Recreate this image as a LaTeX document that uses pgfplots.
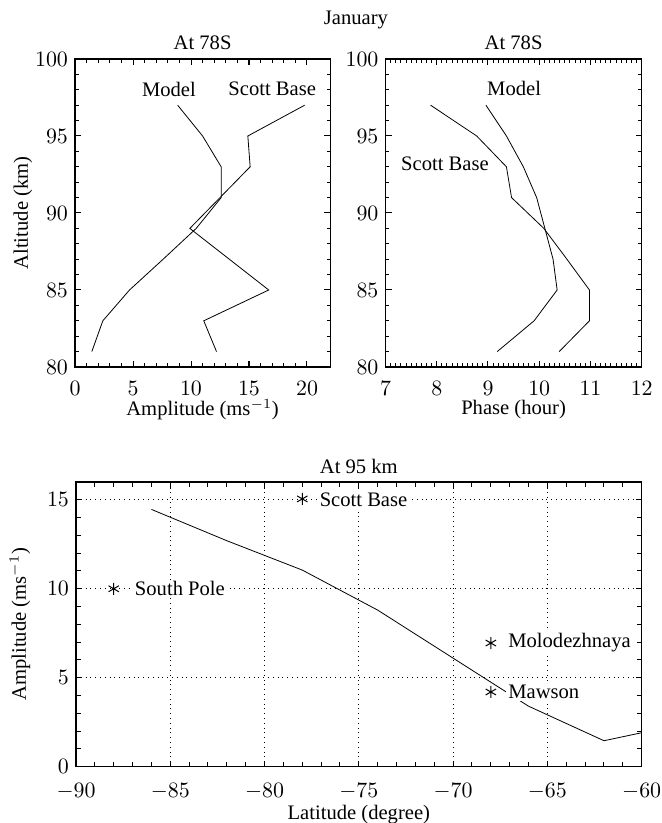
\documentclass[border=0pt]{standalone}
\usepackage{fontspec}
\setmainfont{Liberation Serif}
\usepackage{pgfplots}
\pgfplotsset{compat=1.18}
\pgfplotsset{
  panel/.style={
    scale only axis, anchor=north west,
    axis line style={line width=0.6pt},
    cycle list={{black, mark=none, line width=0.5pt}},
    ticklabel style={font=\fontsize{10.5}{12}\selectfont},
    xticklabel style={yshift=-3.5pt},
    tick style={black, line width=0.5pt},
    major tick length=3pt, minor tick length=1.8pt,
    title style={at={(0.5,1)}, anchor=center, yshift=2pt},
    xlabel style={at={(0.5,0)}, anchor=center, yshift=-21.5pt},
  }
}
\begin{document}
\begin{tikzpicture}[font=\fontsize{10.3}{12}\selectfont]
\path[use as bounding box] (0,0) rectangle (330.5pt,-411.5pt);
\node at (178pt,-10pt) {January};

% amplitude profile at 78S
\begin{axis}[panel, at={(37.5pt,-29.5pt)}, width=127.6pt, height=154pt,
  xmin=0, xmax=22, ymin=80, ymax=100,
  xtick={0,5,...,20}, ytick={80,85,...,100},
  minor x tick num=4, minor y tick num=4,
  title={At 78S}, xlabel={Amplitude (ms$^{-1}$)}, ylabel={Altitude (km)},
  ylabel style={at={(axis description cs:-0.204,0.5)}, anchor=center}]
\addplot coordinates {(8.85,97) (11.0,95) (12.6,93) (12.6,91) (10.45,89) (7.6,87) (4.7,85) (2.4,83) (1.45,81)};
\addplot coordinates {(19.8,97) (14.9,95) (15.1,93) (9.9,89) (16.7,85) (11.1,83) (12.2,81)};
\node at (axis cs:8.1,98.05) {Model};
\node at (axis cs:17.0,98.05) {Scott Base};
\end{axis}

% phase profile at 78S
\begin{axis}[panel, at={(192.75pt,-29.5pt)}, width=128.1pt, height=154pt,
  xmin=7, xmax=12, ymin=80, ymax=100,
  xtick={7,...,12}, ytick={80,85,...,100},
  minor x tick num=9, minor y tick num=4,
  title={At 78S}, xlabel={Phase (hour)}]
\addplot coordinates {(8.96,97) (9.36,95) (9.69,93) (9.95,91) (10.11,89) (10.27,87) (10.35,85) (9.90,83) (9.18,81)};
\addplot coordinates {(7.88,97) (8.78,95) (9.36,93) (9.46,91) (10.09,89) (10.54,87) (10.98,85) (10.98,83) (10.39,81)};
\node at (axis cs:9.51,98.1) {Model};
\node at (axis cs:8.16,93.18) {Scott Base};
\end{axis}

% amplitude vs latitude at 95 km
\begin{axis}[panel, at={(38pt,-241pt)}, width=282.85pt, height=142.35pt,
  xmin=-90, xmax=-60, ymin=0, ymax=16,
  xtick={-90,-85,...,-60}, ytick={0,5,10,15},
  minor x tick num=4, minor y tick num=4, minor tick length=2.6pt,
  xticklabel style={yshift=-1.5pt},
  grid=major, major grid style={dotted, black, line width=0.5pt},
  title={At 95 km}, title style={yshift=-0.3pt},
  xlabel={Latitude (degree)}, xlabel style={yshift=-2.6pt},
  ylabel={Amplitude (ms$^{-1}$)},
  ylabel style={at={(axis description cs:-0.099,0.5)}, anchor=center}]
\addplot coordinates {(-86,14.46) (-82,12.7) (-78,11.05) (-74,8.8) (-70,6.1) (-66,3.4) (-62,1.46) (-60,1.91)};
\addplot[only marks, mark=asterisk, mark size=3pt, line width=0.5pt] coordinates {(-88,10) (-78,15.05) (-68,6.95) (-68,4.2)};
\node[anchor=west, fill=white, inner sep=1pt] at (axis cs:-87.0,10) {South Pole};
\node[anchor=west, fill=white, inner sep=1pt] at (axis cs:-77.2,15) {Scott Base};
\node[anchor=west, fill=white, inner sep=1pt] at (axis cs:-67.2,6.95) {Molodezhnaya};
\node[anchor=west, fill=white, inner sep=1pt] at (axis cs:-67.2,4.2) {Mawson};
\end{axis}
\end{tikzpicture}
\end{document}
